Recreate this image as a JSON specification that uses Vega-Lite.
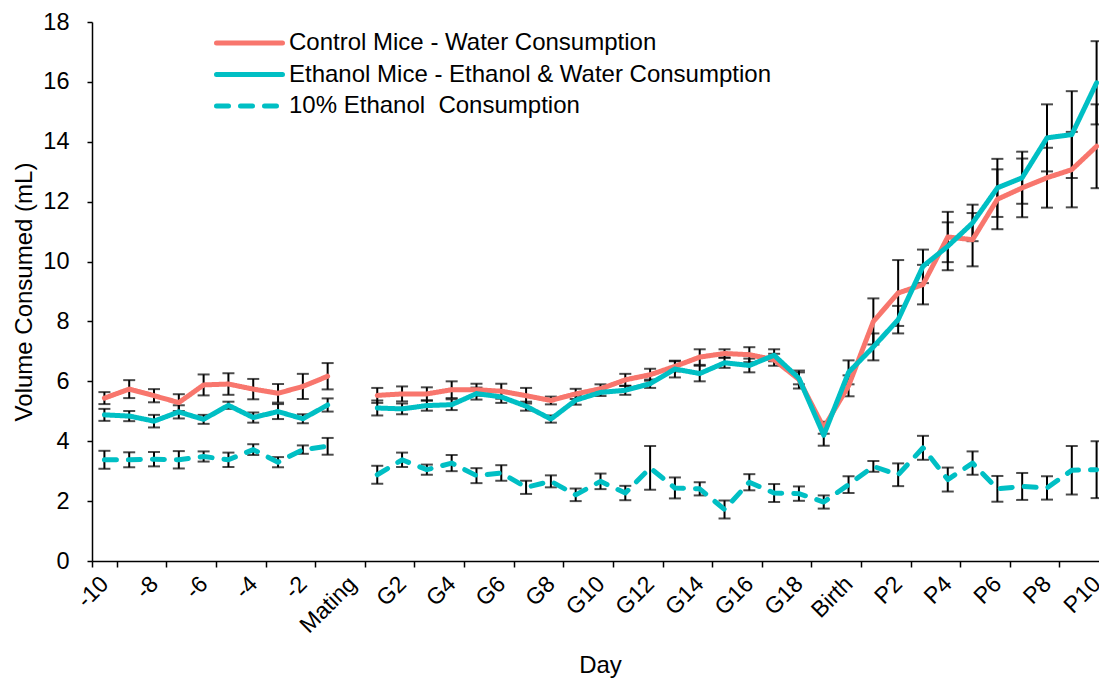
{
"$schema": "https://vega.github.io/schema/vega-lite/v6.json",
"width": 1007, "height": 539,
"autosize": {"type": "none"},
"padding": {"left": 92, "top": 22, "right": 0, "bottom": 122},
"background": "white",
"config": {"view": {"stroke": null}, "font": "Liberation Sans"},
"datasets": {"d": [
{"day":"-10","series":"Control Mice - Water Consumption","phase":"pre","value":5.44,"err":0.20},
{"day":"-9","series":"Control Mice - Water Consumption","phase":"pre","value":5.74,"err":0.30},
{"day":"-8","series":"Control Mice - Water Consumption","phase":"pre","value":5.52,"err":0.22},
{"day":"-7","series":"Control Mice - Water Consumption","phase":"pre","value":5.29,"err":0.28},
{"day":"-6","series":"Control Mice - Water Consumption","phase":"pre","value":5.88,"err":0.35},
{"day":"-5","series":"Control Mice - Water Consumption","phase":"pre","value":5.91,"err":0.36},
{"day":"-4","series":"Control Mice - Water Consumption","phase":"pre","value":5.74,"err":0.34},
{"day":"-3","series":"Control Mice - Water Consumption","phase":"pre","value":5.60,"err":0.31},
{"day":"-2","series":"Control Mice - Water Consumption","phase":"pre","value":5.83,"err":0.42},
{"day":"-1","series":"Control Mice - Water Consumption","phase":"pre","value":6.17,"err":0.44},
{"day":"G1","series":"Control Mice - Water Consumption","phase":"post","value":5.53,"err":0.25},
{"day":"G2","series":"Control Mice - Water Consumption","phase":"post","value":5.58,"err":0.25},
{"day":"G3","series":"Control Mice - Water Consumption","phase":"post","value":5.58,"err":0.22},
{"day":"G4","series":"Control Mice - Water Consumption","phase":"post","value":5.72,"err":0.28},
{"day":"G5","series":"Control Mice - Water Consumption","phase":"post","value":5.72,"err":0.20},
{"day":"G6","series":"Control Mice - Water Consumption","phase":"post","value":5.67,"err":0.25},
{"day":"G7","series":"Control Mice - Water Consumption","phase":"post","value":5.52,"err":0.26},
{"day":"G8","series":"Control Mice - Water Consumption","phase":"post","value":5.36,"err":0.13},
{"day":"G9","series":"Control Mice - Water Consumption","phase":"post","value":5.58,"err":0.17},
{"day":"G10","series":"Control Mice - Water Consumption","phase":"post","value":5.75,"err":0.15},
{"day":"G11","series":"Control Mice - Water Consumption","phase":"post","value":6.05,"err":0.20},
{"day":"G12","series":"Control Mice - Water Consumption","phase":"post","value":6.22,"err":0.20},
{"day":"G13","series":"Control Mice - Water Consumption","phase":"post","value":6.50,"err":0.17},
{"day":"G14","series":"Control Mice - Water Consumption","phase":"post","value":6.81,"err":0.26},
{"day":"G15","series":"Control Mice - Water Consumption","phase":"post","value":6.93,"err":0.14},
{"day":"G16","series":"Control Mice - Water Consumption","phase":"post","value":6.89,"err":0.25},
{"day":"G17","series":"Control Mice - Water Consumption","phase":"post","value":6.72,"err":0.20},
{"day":"G18","series":"Control Mice - Water Consumption","phase":"post","value":6.06,"err":0.30},
{"day":"G19","series":"Control Mice - Water Consumption","phase":"post","value":4.45,"err":0.20},
{"day":"Birth","series":"Control Mice - Water Consumption","phase":"post","value":5.85,"err":0.35},
{"day":"P1","series":"Control Mice - Water Consumption","phase":"post","value":8.00,"err":0.77},
{"day":"P2","series":"Control Mice - Water Consumption","phase":"post","value":8.95,"err":1.10},
{"day":"P3","series":"Control Mice - Water Consumption","phase":"post","value":9.23,"err":0.66},
{"day":"P4","series":"Control Mice - Water Consumption","phase":"post","value":10.82,"err":0.84},
{"day":"P5","series":"Control Mice - Water Consumption","phase":"post","value":10.73,"err":0.89},
{"day":"P6","series":"Control Mice - Water Consumption","phase":"post","value":12.08,"err":1.00},
{"day":"P7","series":"Control Mice - Water Consumption","phase":"post","value":12.46,"err":0.98},
{"day":"P8","series":"Control Mice - Water Consumption","phase":"post","value":12.80,"err":1.00},
{"day":"P9","series":"Control Mice - Water Consumption","phase":"post","value":13.07,"err":1.26},
{"day":"P10","series":"Control Mice - Water Consumption","phase":"post","value":13.85,"err":1.40},
{"day":"-10","series":"Ethanol Mice - Ethanol & Water Consumption","phase":"pre","value":4.88,"err":0.20},
{"day":"-9","series":"Ethanol Mice - Ethanol & Water Consumption","phase":"pre","value":4.84,"err":0.17},
{"day":"-8","series":"Ethanol Mice - Ethanol & Water Consumption","phase":"pre","value":4.67,"err":0.21},
{"day":"-7","series":"Ethanol Mice - Ethanol & Water Consumption","phase":"pre","value":4.98,"err":0.22},
{"day":"-6","series":"Ethanol Mice - Ethanol & Water Consumption","phase":"pre","value":4.73,"err":0.15},
{"day":"-5","series":"Ethanol Mice - Ethanol & Water Consumption","phase":"pre","value":5.20,"err":0.12},
{"day":"-4","series":"Ethanol Mice - Ethanol & Water Consumption","phase":"pre","value":4.79,"err":0.17},
{"day":"-3","series":"Ethanol Mice - Ethanol & Water Consumption","phase":"pre","value":4.99,"err":0.25},
{"day":"-2","series":"Ethanol Mice - Ethanol & Water Consumption","phase":"pre","value":4.75,"err":0.15},
{"day":"-1","series":"Ethanol Mice - Ethanol & Water Consumption","phase":"pre","value":5.21,"err":0.22},
{"day":"G1","series":"Ethanol Mice - Ethanol & Water Consumption","phase":"post","value":5.11,"err":0.25},
{"day":"G2","series":"Ethanol Mice - Ethanol & Water Consumption","phase":"post","value":5.08,"err":0.18},
{"day":"G3","series":"Ethanol Mice - Ethanol & Water Consumption","phase":"post","value":5.19,"err":0.17},
{"day":"G4","series":"Ethanol Mice - Ethanol & Water Consumption","phase":"post","value":5.22,"err":0.18},
{"day":"G5","series":"Ethanol Mice - Ethanol & Water Consumption","phase":"post","value":5.59,"err":0.20},
{"day":"G6","series":"Ethanol Mice - Ethanol & Water Consumption","phase":"post","value":5.48,"err":0.20},
{"day":"G7","series":"Ethanol Mice - Ethanol & Water Consumption","phase":"post","value":5.17,"err":0.15},
{"day":"G8","series":"Ethanol Mice - Ethanol & Water Consumption","phase":"post","value":4.74,"err":0.12},
{"day":"G9","series":"Ethanol Mice - Ethanol & Water Consumption","phase":"post","value":5.37,"err":0.15},
{"day":"G10","series":"Ethanol Mice - Ethanol & Water Consumption","phase":"post","value":5.63,"err":0.12},
{"day":"G11","series":"Ethanol Mice - Ethanol & Water Consumption","phase":"post","value":5.70,"err":0.15},
{"day":"G12","series":"Ethanol Mice - Ethanol & Water Consumption","phase":"post","value":5.92,"err":0.14},
{"day":"G13","series":"Ethanol Mice - Ethanol & Water Consumption","phase":"post","value":6.41,"err":0.28},
{"day":"G14","series":"Ethanol Mice - Ethanol & Water Consumption","phase":"post","value":6.26,"err":0.26},
{"day":"G15","series":"Ethanol Mice - Ethanol & Water Consumption","phase":"post","value":6.62,"err":0.17},
{"day":"G16","series":"Ethanol Mice - Ethanol & Water Consumption","phase":"post","value":6.53,"err":0.23},
{"day":"G17","series":"Ethanol Mice - Ethanol & Water Consumption","phase":"post","value":6.87,"err":0.20},
{"day":"G18","series":"Ethanol Mice - Ethanol & Water Consumption","phase":"post","value":6.10,"err":0.20},
{"day":"G19","series":"Ethanol Mice - Ethanol & Water Consumption","phase":"post","value":4.20,"err":0.35},
{"day":"Birth","series":"Ethanol Mice - Ethanol & Water Consumption","phase":"post","value":6.30,"err":0.40},
{"day":"P1","series":"Ethanol Mice - Ethanol & Water Consumption","phase":"post","value":7.15,"err":0.45},
{"day":"P2","series":"Ethanol Mice - Ethanol & Water Consumption","phase":"post","value":8.06,"err":0.46},
{"day":"P3","series":"Ethanol Mice - Ethanol & Water Consumption","phase":"post","value":9.84,"err":0.56},
{"day":"P4","series":"Ethanol Mice - Ethanol & Water Consumption","phase":"post","value":10.51,"err":0.80},
{"day":"P5","series":"Ethanol Mice - Ethanol & Water Consumption","phase":"post","value":11.29,"err":0.61},
{"day":"P6","series":"Ethanol Mice - Ethanol & Water Consumption","phase":"post","value":12.46,"err":0.97},
{"day":"P7","series":"Ethanol Mice - Ethanol & Water Consumption","phase":"post","value":12.80,"err":0.87},
{"day":"P8","series":"Ethanol Mice - Ethanol & Water Consumption","phase":"post","value":14.13,"err":1.12},
{"day":"P9","series":"Ethanol Mice - Ethanol & Water Consumption","phase":"post","value":14.24,"err":1.45},
{"day":"P10","series":"Ethanol Mice - Ethanol & Water Consumption","phase":"post","value":15.97,"err":1.39},
{"day":"-10","series":"10% Ethanol  Consumption","phase":"pre","value":3.38,"err":0.30},
{"day":"-9","series":"10% Ethanol  Consumption","phase":"pre","value":3.38,"err":0.25},
{"day":"-8","series":"10% Ethanol  Consumption","phase":"pre","value":3.40,"err":0.24},
{"day":"-7","series":"10% Ethanol  Consumption","phase":"pre","value":3.38,"err":0.29},
{"day":"-6","series":"10% Ethanol  Consumption","phase":"pre","value":3.49,"err":0.17},
{"day":"-5","series":"10% Ethanol  Consumption","phase":"pre","value":3.38,"err":0.24},
{"day":"-4","series":"10% Ethanol  Consumption","phase":"pre","value":3.72,"err":0.18},
{"day":"-3","series":"10% Ethanol  Consumption","phase":"pre","value":3.30,"err":0.17},
{"day":"-2","series":"10% Ethanol  Consumption","phase":"pre","value":3.72,"err":0.14},
{"day":"-1","series":"10% Ethanol  Consumption","phase":"pre","value":3.83,"err":0.28},
{"day":"G1","series":"10% Ethanol  Consumption","phase":"post","value":2.88,"err":0.30},
{"day":"G2","series":"10% Ethanol  Consumption","phase":"post","value":3.38,"err":0.24},
{"day":"G3","series":"10% Ethanol  Consumption","phase":"post","value":3.05,"err":0.17},
{"day":"G4","series":"10% Ethanol  Consumption","phase":"post","value":3.27,"err":0.27},
{"day":"G5","series":"10% Ethanol  Consumption","phase":"post","value":2.85,"err":0.25},
{"day":"G6","series":"10% Ethanol  Consumption","phase":"post","value":2.94,"err":0.26},
{"day":"G7","series":"10% Ethanol  Consumption","phase":"post","value":2.46,"err":0.22},
{"day":"G8","series":"10% Ethanol  Consumption","phase":"post","value":2.66,"err":0.20},
{"day":"G9","series":"10% Ethanol  Consumption","phase":"post","value":2.21,"err":0.21},
{"day":"G10","series":"10% Ethanol  Consumption","phase":"post","value":2.66,"err":0.26},
{"day":"G11","series":"10% Ethanol  Consumption","phase":"post","value":2.27,"err":0.24},
{"day":"G12","series":"10% Ethanol  Consumption","phase":"post","value":3.11,"err":0.73},
{"day":"G13","series":"10% Ethanol  Consumption","phase":"post","value":2.44,"err":0.35},
{"day":"G14","series":"10% Ethanol  Consumption","phase":"post","value":2.41,"err":0.22},
{"day":"G15","series":"10% Ethanol  Consumption","phase":"post","value":1.72,"err":0.30},
{"day":"G16","series":"10% Ethanol  Consumption","phase":"post","value":2.63,"err":0.27},
{"day":"G17","series":"10% Ethanol  Consumption","phase":"post","value":2.27,"err":0.30},
{"day":"G18","series":"10% Ethanol  Consumption","phase":"post","value":2.25,"err":0.24},
{"day":"G19","series":"10% Ethanol  Consumption","phase":"post","value":1.97,"err":0.22},
{"day":"Birth","series":"10% Ethanol  Consumption","phase":"post","value":2.55,"err":0.28},
{"day":"P1","series":"10% Ethanol  Consumption","phase":"post","value":3.16,"err":0.18},
{"day":"P2","series":"10% Ethanol  Consumption","phase":"post","value":2.88,"err":0.38},
{"day":"P3","series":"10% Ethanol  Consumption","phase":"post","value":3.78,"err":0.40},
{"day":"P4","series":"10% Ethanol  Consumption","phase":"post","value":2.72,"err":0.40},
{"day":"P5","series":"10% Ethanol  Consumption","phase":"post","value":3.27,"err":0.39},
{"day":"P6","series":"10% Ethanol  Consumption","phase":"post","value":2.41,"err":0.43},
{"day":"P7","series":"10% Ethanol  Consumption","phase":"post","value":2.49,"err":0.45},
{"day":"P8","series":"10% Ethanol  Consumption","phase":"post","value":2.44,"err":0.39},
{"day":"P9","series":"10% Ethanol  Consumption","phase":"post","value":3.03,"err":0.81},
{"day":"P10","series":"10% Ethanol  Consumption","phase":"post","value":3.05,"err":0.95}
]},
"data": {"name": "d"},
"encoding": {
  "x": {"field": "day", "type": "nominal",
    "scale": {"type": "band", "domain": ["-10","-9","-8","-7","-6","-5","-4","-3","-2","-1","Mating","G1","G2","G3","G4","G5","G6","G7","G8","G9","G10","G11","G12","G13","G14","G15","G16","G17","G18","G19","Birth","P1","P2","P3","P4","P5","P6","P7","P8","P9","P10"], "range": [0, 1017], "paddingInner": 0, "paddingOuter": 0},
    "axis": {"title": "Day", "values": ["-10","-8","-6","-4","-2","Mating","G2","G4","G6","G8","G10","G12","G14","G16","G18","Birth","P2","P4","P6","P8","P10"],
      "tickBand": "extent", "labelAngle": -45, "labelAlign": "right", "labelBaseline": "middle", "labelFontSize": 23, "labelColor": "black", "labelPadding": 13, "labelOverlap": false, "labelBound": false,
      "tickSize": 6, "tickColor": "black", "tickWidth": 1.5, "domainColor": "black", "domainWidth": 1.5, "grid": false,
      "titleFontSize": 24, "titleFontWeight": "normal", "titleColor": "black", "titleX": 508, "titleY": 111, "titleBaseline": "alphabetic", "titleAlign": "center"}}
},
"layer": [
  {"mark": {"type": "errorbar", "ticks": {"size": 12, "thickness": 2, "color": "black"}, "rule": {"strokeWidth": 2, "color": "black"}, "color": "black"},
   "encoding": {
     "y": {"field": "value", "type": "quantitative",
       "scale": {"domain": [0, 18], "nice": false, "zero": true},
       "axis": {"title": "Volume Consumed (mL)", "values": [0,2,4,6,8,10,12,14,16,18], "grid": false, "labelFontSize": 23.5, "labelColor": "black", "labelPadding": 18, "tickSize": 5, "tickColor": "black", "tickWidth": 1.5, "domainColor": "black", "domainWidth": 1.5,
         "titleFontSize": 24, "titleFontWeight": "normal", "titleColor": "black", "titleX": -61, "titleY": 269.5, "titleAngle": 270, "titleAlign": "center", "titleBaseline": "alphabetic"}},
     "yError": {"field": "err"}
   }},
  {"mark": {"type": "line", "strokeWidth": 5, "strokeCap": "round", "strokeJoin": "round"},
   "encoding": {
     "y": {"field": "value", "type": "quantitative"},
     "color": {"field": "series", "type": "nominal",
       "scale": {"domain": ["Control Mice - Water Consumption","Ethanol Mice - Ethanol & Water Consumption","10% Ethanol  Consumption"], "range": ["#F8766D","#00BFC4","#00BFC4"]},
       "legend": {"title": null, "orient": "none", "legendX": 122, "legendY": 9, "padding": 0, "symbolType": "stroke", "symbolSize": 4356, "symbolStrokeWidth": 5, "clipHeight": 24, "labelFontSize": 24, "labelColor": "black", "labelOffset": 4, "labelLimit": 900, "rowPadding": 7.5,
         "labelExpr": "replace(datum.label, '  ', '\u00a0 ')",
         "encode": {"symbols": {"update": {"strokeCap": {"value": "round"}}}}}},
     "strokeDash": {"field": "series", "type": "nominal",
       "scale": {"domain": ["Control Mice - Water Consumption","Ethanol Mice - Ethanol & Water Consumption","10% Ethanol  Consumption"], "range": [[1,0],[1,0],[12,12]]},
       "legend": {"title": null, "orient": "none", "legendX": 122, "legendY": 9, "padding": 0, "symbolType": "stroke", "symbolSize": 4356, "symbolStrokeWidth": 5, "clipHeight": 24, "labelFontSize": 24, "labelColor": "black", "labelOffset": 4, "labelLimit": 900, "rowPadding": 7.5,
         "labelExpr": "replace(datum.label, '  ', '\u00a0 ')",
         "encode": {"symbols": {"update": {"strokeCap": {"value": "round"}}}}}},
     "detail": {"field": "phase", "type": "nominal"}
   }}
]
}
